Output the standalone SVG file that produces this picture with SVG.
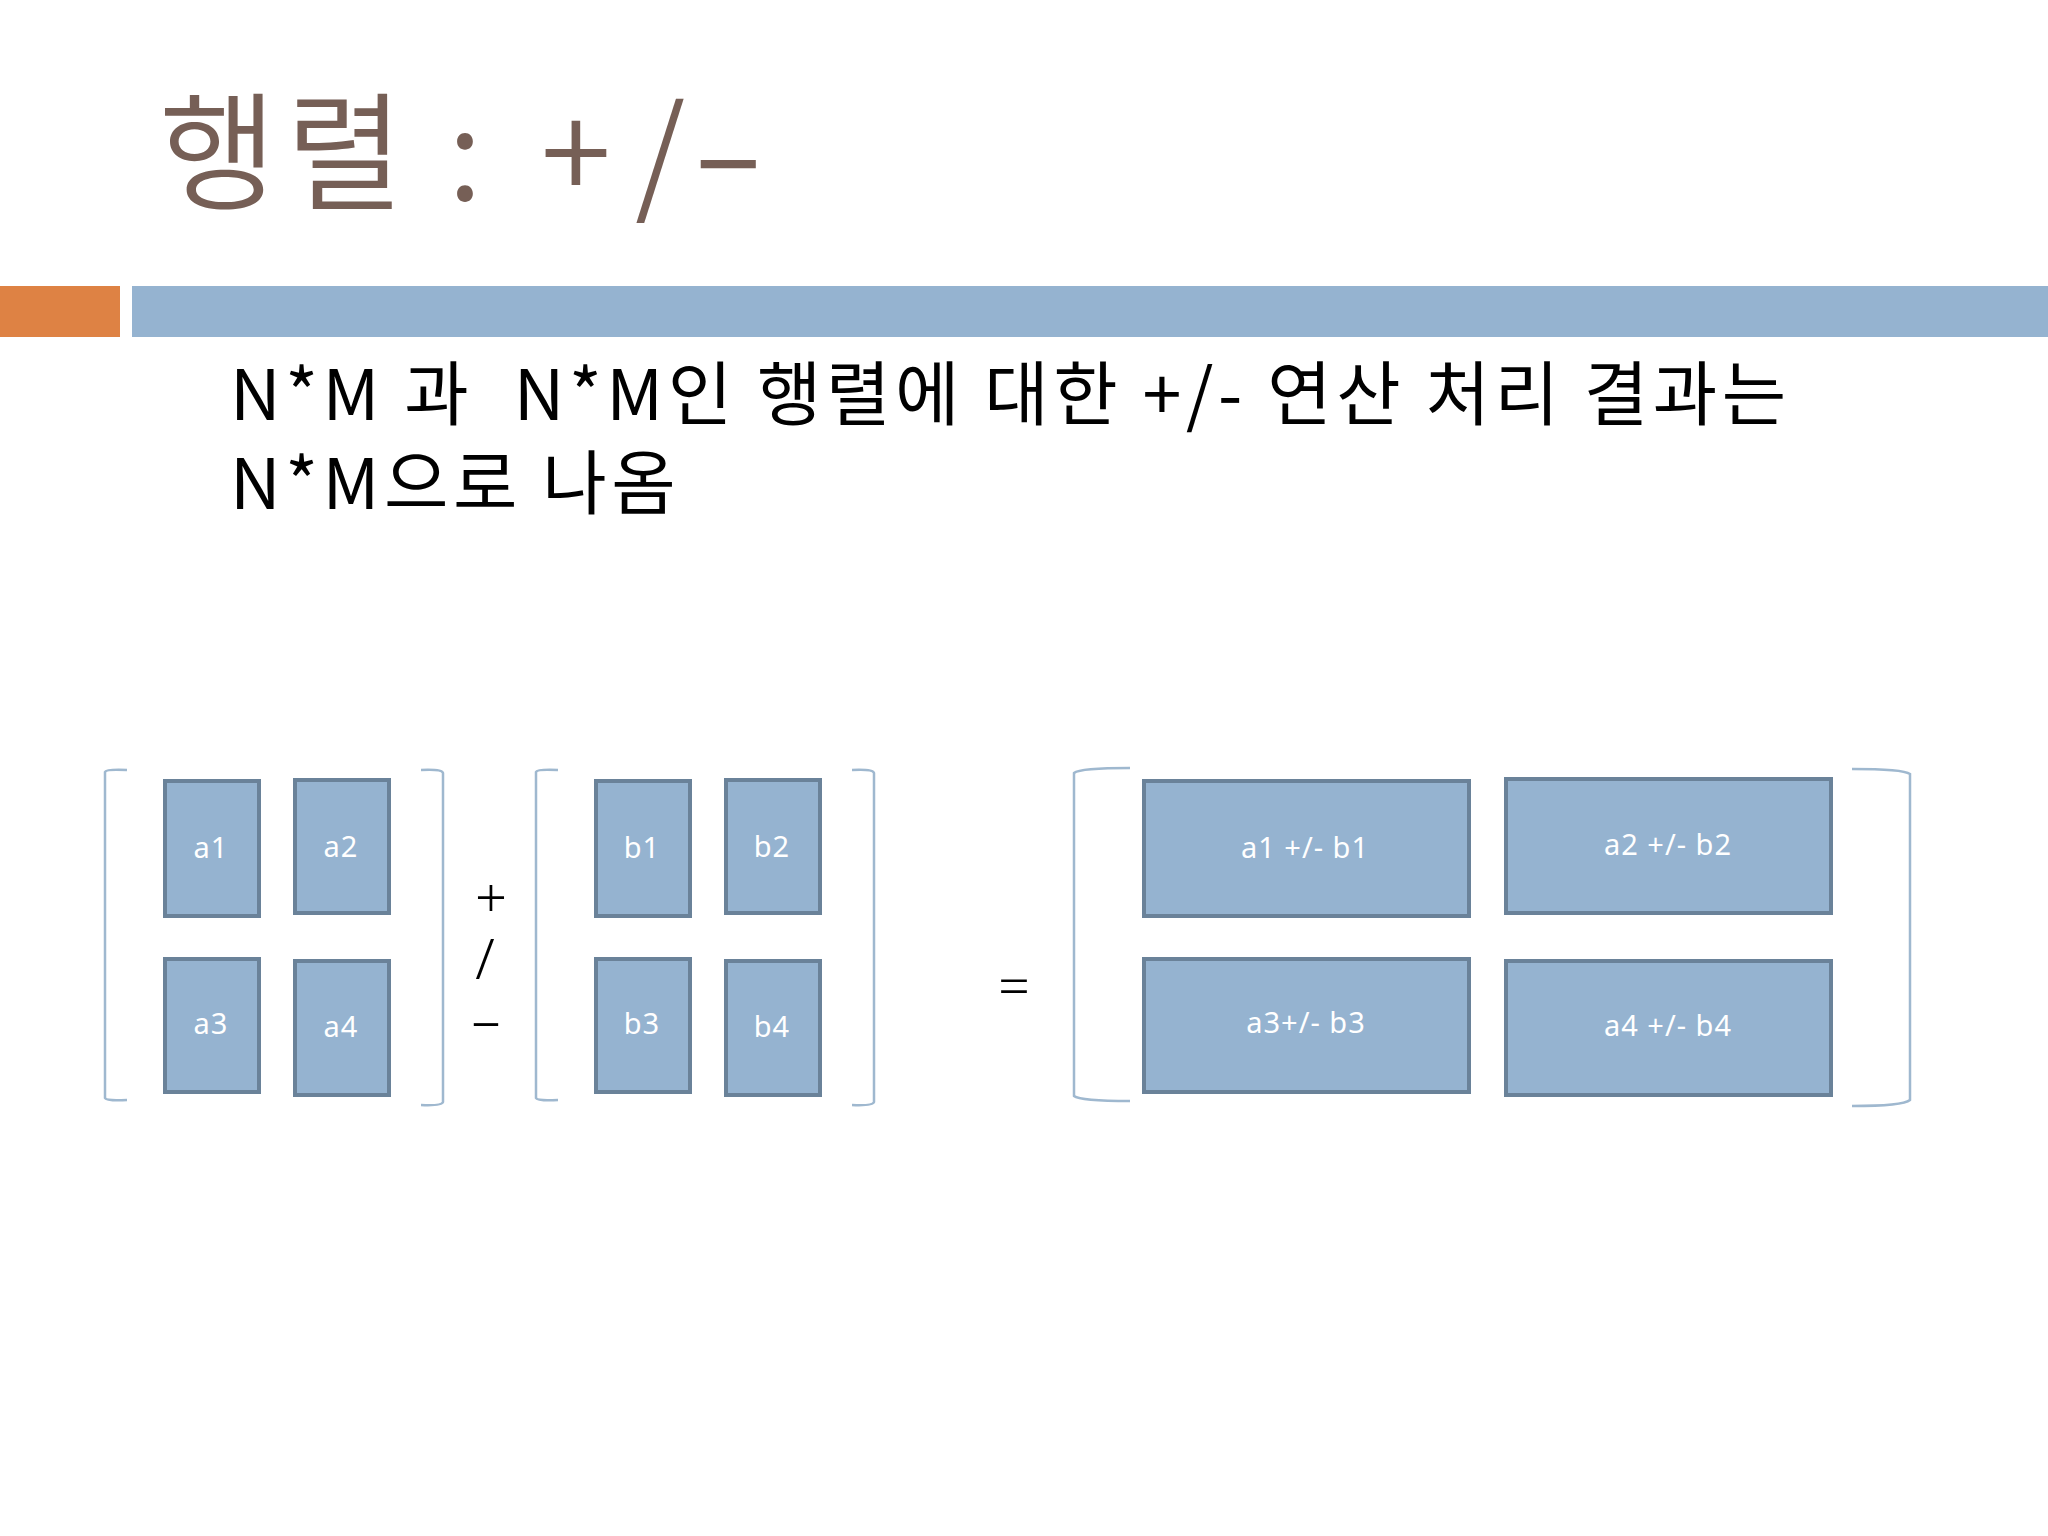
<svg xmlns="http://www.w3.org/2000/svg" width="2048" height="1536" viewBox="0 0 2048 1536">
<style>
.cell{fill:#95b3d0;stroke:#6a8299;stroke-width:4}
.brk{fill:none;stroke:#9fb8cf;stroke-width:2.5}
.lbl{font-family:"Noto Sans","Liberation Sans",sans-serif;font-size:29px;fill:#ffffff;text-anchor:middle;letter-spacing:1px}
.op{font-family:"Noto Sans","Liberation Sans",sans-serif;font-size:56px;font-weight:300;fill:#000000;text-anchor:middle}
.title{font-family:"Noto Sans CJK KR","Noto Sans",sans-serif;font-size:128px;font-weight:350;fill:#765f56;text-anchor:middle}
.body{font-family:"Noto Sans CJK KR","Noto Sans",sans-serif;font-size:70px;fill:#000000;white-space:pre;letter-spacing:4.6px}
</style>
<rect width="2048" height="1536" fill="#ffffff"/>
<g id="title">
<text class="title" y="200"><tspan x="218">행</tspan><tspan x="345">렬</tspan><tspan x="465">:</tspan><tspan x="576">+</tspan><tspan x="660">/</tspan></text>
<text class="title" transform="translate(728 0) scale(1.7 1)" x="0" y="200">-</text>
</g>
<g id="header-bars">
<rect x="0" y="286" width="120" height="51" fill="#de8244"/>
<rect x="132" y="286" width="1916" height="51" fill="#95b3d0"/>
</g>
<g id="body-text">
<text class="body" xml:space="preserve"><tspan x="230" y="420">N*M 과  N*M인 행렬에 대한 +/- 연산 처리 결과는</tspan><tspan x="230" y="509">N*M으로 나옴</tspan></text>
</g>
<g id="connectors"></g>
<g id="matrix-a">
<path class="brk" d="M127 770 Q106 769 105 772 L105 1098 Q106 1101 127 1100"/>
<path class="brk" d="M421 770 Q442 769 443 773 L443 1102 Q442 1106 421 1105"/>
<g id="a1"><rect class="cell" x="165" y="781" width="94" height="135"/><text class="lbl" x="211" y="858">a1</text></g>
<g id="a2"><rect class="cell" x="295" y="780" width="94" height="133"/><text class="lbl" x="341" y="857">a2</text></g>
<g id="a3"><rect class="cell" x="165" y="959" width="94" height="133"/><text class="lbl" x="211" y="1034">a3</text></g>
<g id="a4"><rect class="cell" x="295" y="961" width="94" height="134"/><text class="lbl" x="341" y="1037">a4</text></g>
</g>
<g id="operator">
<text class="op"><tspan x="491" y="917">+</tspan><tspan x="485" y="979">/</tspan></text>
<text class="op" transform="translate(486 0) scale(1.8 1)" x="0" y="1040">-</text>
</g>
<g id="matrix-b">
<path class="brk" d="M558 770 Q537 769 536 772 L536 1098 Q537 1101 558 1100"/>
<path class="brk" d="M852 770 Q873 769 874 773 L874 1102 Q873 1106 852 1105"/>
<g id="b1"><rect class="cell" x="596" y="781" width="94" height="135"/><text class="lbl" x="642" y="858">b1</text></g>
<g id="b2"><rect class="cell" x="726" y="780" width="94" height="133"/><text class="lbl" x="772" y="857">b2</text></g>
<g id="b3"><rect class="cell" x="596" y="959" width="94" height="133"/><text class="lbl" x="642" y="1034">b3</text></g>
<g id="b4"><rect class="cell" x="726" y="961" width="94" height="134"/><text class="lbl" x="772" y="1037">b4</text></g>
</g>
<g id="equals">
<text class="op" x="1014" y="1006">=</text>
</g>
<g id="matrix-result">
<path class="brk" d="M1130 768 Q1080 768 1074 773 L1074 1096 Q1080 1101 1130 1101"/>
<path class="brk" d="M1852 769 Q1903 769 1910 774 L1910 1100 Q1903 1106 1852 1106"/>
<g id="r1"><rect class="cell" x="1144" y="781" width="325" height="135"/><text class="lbl" x="1305" y="858">a1 +/- b1</text></g>
<g id="r2"><rect class="cell" x="1506" y="779" width="325" height="134"/><text class="lbl" x="1668" y="855">a2 +/- b2</text></g>
<g id="r3"><rect class="cell" x="1144" y="959" width="325" height="133"/><text class="lbl" x="1306" y="1033">a3+/- b3</text></g>
<g id="r4"><rect class="cell" x="1506" y="961" width="325" height="134"/><text class="lbl" x="1668" y="1036">a4 +/- b4</text></g>
</g>
</svg>
